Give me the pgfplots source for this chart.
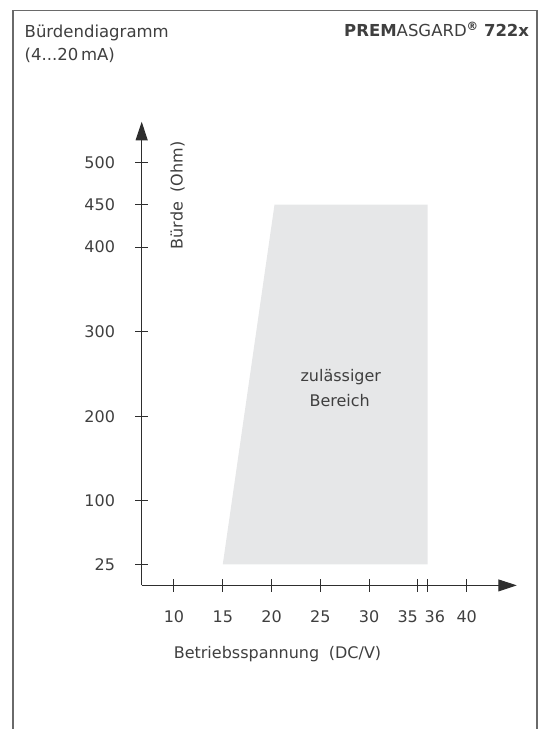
\documentclass[border=0pt]{standalone}
\usepackage{pgfplots}
\pgfplotsset{compat=1.18}
\usepackage{fontspec}
\setmainfont{DejaVu Sans}
\usetikzlibrary{arrows.meta}
\definecolor{txt}{HTML}{3F3F3F}
\definecolor{area}{HTML}{E6E7E8}
\definecolor{framec}{HTML}{6A6A6A}
\definecolor{axc}{HTML}{2E2E2E}
\begin{document}
\begin{tikzpicture}[x=1pt,y=1pt]
\useasboundingbox (0,0) rectangle (542,729);
\draw[framec, line width=1.4pt] (12.8,0) -- (12.8,718.6) -- (537,718.6) -- (537,0);
\begin{axis}[
  at={(141.7pt,143.6pt)}, anchor=south west,
  x=9.757pt, y=0.846pt,
  xmin=6.69, xmax=45.13, ymin=0, ymax=548,
  axis lines=left, clip=false,
  axis line style={axc, line width=1pt},
  x axis line style={-{Triangle[length=18.5pt,width=12pt]}},
  y axis line style={-{Triangle[length=18.5pt,width=12pt]}},
  tick align=center, major tick length=13pt,
  tick style={axc, line width=1pt},
  xtick={10,15,20,25,30,35,36,40},
  xticklabels={10,15,20,25,30,\makebox[0pt][r]{35},\makebox[0pt][l]{\kern-3pt 36},40},
  ytick={25,100,200,300,400,450,500},
  yticklabels={25,100,200,300,400,450,500},
  tick label style={font=\fontsize{16}{19}\selectfont, text=txt, inner sep=0pt},
  xticklabel style={anchor=center, yshift=-25pt},
  yticklabel style={anchor=east, xshift=-20pt},
]
\addplot[fill=area, draw=none, mark=none] coordinates {(15,25) (20.3,450) (36,450) (36,25)};
\end{axis}
\begin{scope}[every node/.style={font=\fontsize{16}{19}\selectfont, text=txt, inner sep=0pt}]
\node[anchor=base west, font=\fontsize{16.5}{19}\selectfont] at (24.5,691.7) {Bürdendiagramm};
\node[anchor=base west, font=\fontsize{16.5}{19}\selectfont] at (24.5,668) {(4...20\,mA)};
\node[anchor=base east, font=\fontsize{16.5}{19}\selectfont] at (529.3,692.3) {\textbf{PREM}ASGARD\textsuperscript{\textbf{®}} \textbf{722x}};
\node[anchor=base, rotate=90] at (182.5,533.5) {Bürde\hspace{0.6em}(Ohm)};
\node[anchor=base] at (277.5,70) {Betriebsspannung\hspace{0.6em}(DC/V)};
\node[anchor=base] at (340.8,347) {zulässiger};
\node[anchor=base] at (339.7,322.3) {Bereich};
\end{scope}
\end{tikzpicture}
\end{document}
